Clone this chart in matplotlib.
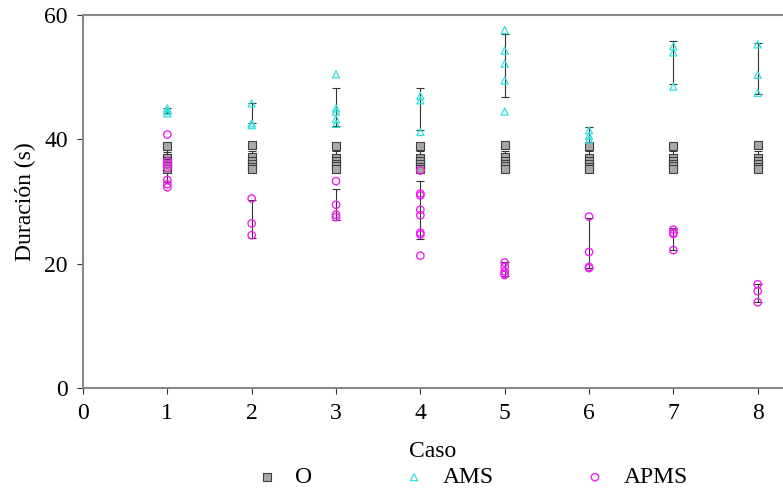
import numpy as np
import matplotlib
matplotlib.use('Agg')
import matplotlib.pyplot as plt

plt.rcParams['font.family'] = ['Liberation Serif', 'DejaVu Serif']

casos = [1, 2, 3, 4, 5, 6, 7, 8]

# valores individuales por caso (s)
o_vals = [
    [39.0, 37.0, 36.6, 36.2, 35.8, 35.3],
    [39.1, 37.2, 36.5, 36.0, 35.6, 35.2],
    [39.0, 37.1, 36.6, 36.1, 35.7, 35.3],
    [39.0, 37.0, 36.5, 36.0, 35.6, 35.2],
    [39.1, 37.2, 36.6, 36.1, 35.7, 35.3],
    [39.0, 37.1, 36.5, 36.0, 35.6, 35.2],
    [39.0, 37.0, 36.6, 36.1, 35.7, 35.3],
    [39.1, 37.1, 36.5, 36.0, 35.6, 35.2],
]
ams_vals = [
    [45.0, 44.6, 44.2],
    [45.8, 42.6, 42.3],
    [50.5, 45.0, 44.5, 43.3, 42.5],
    [47.0, 46.3, 41.2],
    [57.6, 54.3, 52.2, 49.5, 44.5],
    [41.5, 40.6, 40.0],
    [55.0, 54.0, 48.5],
    [55.3, 50.4, 47.5],
]
apms_vals = [
    [40.8, 36.5, 36.0, 35.4, 33.5, 32.8, 32.3],
    [30.5, 26.5, 24.6],
    [33.3, 29.5, 27.9, 27.5],
    [35.0, 31.3, 31.0, 28.7, 27.8, 25.0, 24.7, 21.3],
    [20.2, 19.5, 18.8, 18.4, 18.2],
    [27.6, 21.9, 19.5, 19.3],
    [25.5, 25.0, 24.8, 22.2],
    [16.7, 15.6, 13.8],
]

# barras de error (media +- desviacion)
o_mean = [36.8, 36.8, 36.8, 36.7, 36.8, 36.8, 36.8, 36.8]
o_std = [2.0, 1.4, 1.4, 1.4, 1.4, 1.3, 1.4, 1.4]
ams_mean = [44.6, 44.2, 45.2, 44.9, 51.9, 40.5, 52.4, 51.4]
ams_std = [0.4, 1.6, 3.1, 3.4, 5.1, 1.5, 3.4, 4.1]
apms_mean = [35.6, 27.2, 29.5, 28.7, 19.2, 23.4, 24.0, 15.3]
apms_std = [2.4, 3.0, 2.5, 4.7, 1.1, 4.0, 1.8, 1.5]


def aplanar(vals):
    xs, ys = [], []
    for c, v in zip(casos, vals):
        xs += [c] * len(v)
        ys += v
    return xs, ys


fig = plt.figure(figsize=(7.83, 4.9), dpi=100)
ax = fig.add_axes([0.106, 0.208, 0.894, 0.761])

eb = dict(fmt='none', ecolor='#333333', elinewidth=0.8, capsize=3, capthick=0.8, zorder=2)
ax.errorbar(casos, o_mean, yerr=o_std, **eb)
ax.errorbar(casos, ams_mean, yerr=ams_std, **eb)
ax.errorbar(casos, apms_mean, yerr=apms_std, **eb)

x, y = aplanar(o_vals)
ax.scatter(x, y, marker='s', s=28, facecolor='#a8a8a8', edgecolor='#404040',
           linewidths=0.8, label='O', zorder=3)
x, y = aplanar(ams_vals)
ax.scatter(x, y, marker='^', s=26, facecolor='none', edgecolor='#33e0e0',
           linewidths=0.9, label='AMS', zorder=3)
x, y = aplanar(apms_vals)
ax.scatter(x, y, marker='o', s=28, facecolor='none', edgecolor='#ee22ee',
           linewidths=1.0, label='APMS', zorder=3)

ax.set_xlim(0, 8.3)
ax.set_ylim(0, 60)
ax.set_xticks(range(0, 9))
ax.set_yticks([0, 20, 40, 60])
ax.tick_params(labelsize=17, color='#333333', length=4, width=0.8, pad=7)
for s in ['left', 'bottom', 'top']:
    ax.spines[s].set_color('#888888')
    ax.spines[s].set_linewidth(1.5)
ax.spines['right'].set_visible(False)

ax.set_xlabel('Caso', fontsize=17, labelpad=12)
ax.set_ylabel('Duración (s)', fontsize=17, labelpad=6)

fig.legend(loc='lower center', bbox_to_anchor=(0.602, -0.04), ncol=3, frameon=False,
           fontsize=17, columnspacing=3.8, handlelength=1.0, handletextpad=0.7,
           markerscale=1.0)

fig.savefig('out.png', dpi=100)
